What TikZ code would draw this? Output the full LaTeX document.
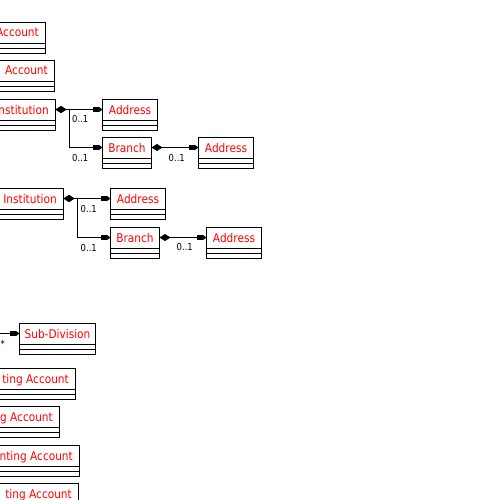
\documentclass[tikz,border=0pt]{standalone}
\usepackage{fontspec}
\setmainfont{DejaVu Sans}[FakeStretch=0.88]
\usetikzlibrary{arrows.meta}
\definecolor{namered}{RGB}{255,0,0}
\tikzset{
  classbox/.style={draw=black, line width=1pt, fill=white, minimum height=31pt,
    inner sep=0pt, outer sep=0pt, anchor=north west},
  nametext/.style={text=namered, font=\fontsize{12}{14}\selectfont, inner sep=0pt, anchor=base},
  clipname/.style={nametext, anchor=base east},
  mult/.style={text=black, font=\fontsize{9.6}{11}\selectfont, inner sep=0pt, anchor=base west},
  navtip/.tip={Rectangle[length=6pt,width=4.5pt]Triangle[length=4pt,width=5.5pt]},
  assoc/.style={line width=1pt, {Diamond[length=11pt,width=7pt]}-{navtip}},
  nav/.style={line width=1pt, -{navtip}},
}
\newcommand\umlcomps[1]{%
  \draw[line width=1pt] ([yshift=-21pt]#1.north west) -- ([yshift=-21pt]#1.north east)
    ([yshift=-26pt]#1.north west) -- ([yshift=-26pt]#1.north east);}
\begin{document}
\begin{tikzpicture}[x=1pt,y=-1pt]
\useasboundingbox (0,0) rectangle (500,500);
\fill[white] (0,0) rectangle (500,500);
\clip (0,0) rectangle (500,500);

% class boxes
\node[classbox, minimum width=105.5pt] (acc1) at (-60,22.5) {};
\node[classbox, minimum width=114.5pt] (acc2) at (-60,60.5) {};
\node[classbox, minimum width=115.5pt] (inst1) at (-60,99.5) {};
\node[classbox, minimum width=55pt] (addr1) at (102.5,99.5) {};
\node[classbox, minimum width=49pt] (branch1) at (102.5,137.5) {};
\node[classbox, minimum width=55pt] (addr2) at (198.5,137.5) {};
\node[classbox, minimum width=123.5pt] (inst2) at (-60,188.5) {};
\node[classbox, minimum width=55pt] (addr3) at (110.5,188.5) {};
\node[classbox, minimum width=49pt] (branch2) at (110.5,227.5) {};
\node[classbox, minimum width=55pt] (addr4) at (206.5,227.5) {};
\node[classbox, minimum width=76pt] (sub) at (19.5,323.5) {};
\node[classbox, minimum width=135.5pt] (acc3) at (-60,368.5) {};
\node[classbox, minimum width=119.5pt] (acc4) at (-60,406.5) {};
\node[classbox, minimum width=139.5pt] (acc5) at (-60,445.5) {};
\node[classbox, minimum width=138.5pt] (acc6) at (-60,483.5) {};

\foreach \b in {acc1,acc2,inst1,addr1,branch1,addr2,inst2,addr3,branch2,addr4,sub,acc3,acc4,acc5,acc6}{\umlcomps{\b}}

% names
\node[clipname] (acc1-n) at ([xshift=-6.5pt,yshift=-14.5pt]acc1.north east) {Account};
\node[clipname] (acc2-n) at ([xshift=-6.5pt,yshift=-14.5pt]acc2.north east) {Account};
\node[clipname] (inst1-n) at ([xshift=-6.5pt,yshift=-14.5pt]inst1.north east) {Institution};
\node[clipname] (inst2-n) at ([xshift=-6.5pt,yshift=-14.5pt]inst2.north east) {Institution};
\node[clipname] (acc3-n) at ([xshift=-6.5pt,yshift=-14.5pt]acc3.north east) {ting Account};
\node[clipname] (acc4-n) at ([xshift=-6.5pt,yshift=-14.5pt]acc4.north east) {g Account};
\node[clipname] (acc5-n) at ([xshift=-6.5pt,yshift=-14.5pt]acc5.north east) {nting Account};
\node[clipname] (acc6-n) at ([xshift=-6.5pt,yshift=-14.5pt]acc6.north east) {ting Account};
\node[nametext] (addr1-n) at ([yshift=-14.5pt]addr1.north) {Address};
\node[nametext] (branch1-n) at ([yshift=-14.5pt]branch1.north) {Branch};
\node[nametext] (addr2-n) at ([yshift=-14.5pt]addr2.north) {Address};
\node[nametext] (addr3-n) at ([yshift=-14.5pt]addr3.north) {Address};
\node[nametext] (branch2-n) at ([yshift=-14.5pt]branch2.north) {Branch};
\node[nametext] (addr4-n) at ([yshift=-14.5pt]addr4.north) {Address};
\node[nametext] (sub-n) at ([yshift=-14.5pt]sub.north) {Sub-Division};

% connectors
\draw[assoc] ([yshift=-10pt]inst1.north east) -- ([yshift=-10pt]addr1.north west);
\draw[assoc] ([yshift=-10pt]inst1.north east) -- ++(14,0) |- ([yshift=-10pt]branch1.north west);
\draw[assoc] ([yshift=-10pt]branch1.north east) -- ([yshift=-10pt]addr2.north west);
\draw[assoc] ([yshift=-10pt]inst2.north east) -- ([yshift=-10pt]addr3.north west);
\draw[assoc] ([yshift=-10pt]inst2.north east) -- ++(14,0) |- ([yshift=-10pt]branch2.north west);
\draw[assoc] ([yshift=-10pt]branch2.north east) -- ([yshift=-10pt]addr4.north west);
\coordinate (subsrc) at (-20,333.5);
\draw[nav] (subsrc) -- ([yshift=-10pt]sub.north west);

% multiplicities
\node[mult] (m1) at (72,122.5) {0..1};
\node[mult] (m2) at (72,161.5) {0..1};
\node[mult] (m3) at (168.5,161.5) {0..1};
\node[mult] (m4) at (80.5,212.5) {0..1};
\node[mult] (m5) at (80.5,251) {0..1};
\node[mult] (m6) at (176.5,250.5) {0..1};
\node[mult] (m7) at (0.5,347.5) {*};
\end{tikzpicture}
\end{document}
